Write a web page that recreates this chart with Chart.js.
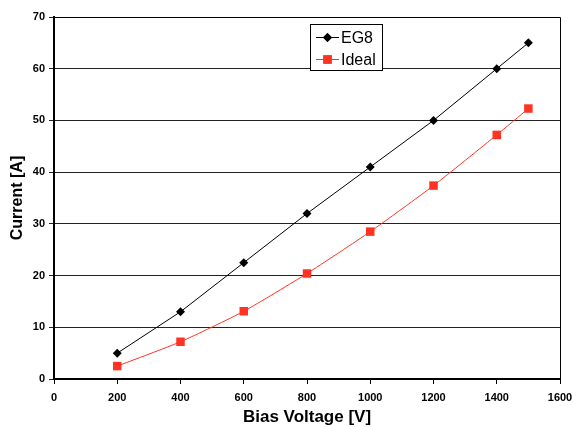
<!DOCTYPE html>
<html>
<head>
<meta charset="utf-8">
<script src="https://cdn.jsdelivr.net/npm/chart.js@4.4.1/dist/chart.umd.min.js"></script>
<style>
  html, body { margin: 0; padding: 0; background: #fff; }
  #wrap { width: 573px; height: 427px; }
</style>
</head>
<body>
<div id="wrap"><canvas id="grafico" width="573" height="427"></canvas></div>
<script>
const voltages = [200, 400, 600, 800, 1000, 1200, 1400, 1500];
const eg8 = [5, 13, 22.5, 32, 41, 50, 60, 65];
const ideal = [2.5, 7.2, 13.1, 20.4, 28.5, 37.4, 47.2, 52.3];
const seriesNames = ['EG8', 'Ideal'];

const red = '#ff3322';

// legend box inside the plot, plus top/right border of plot area
const boxPlugin = {
    id: 'boxPlugin',
    afterDraw(chart) {
        const ctx = chart.ctx;
        const a = chart.chartArea;
        ctx.save();
        ctx.strokeStyle = '#000';
        ctx.lineWidth = 1;
        ctx.beginPath();
        ctx.moveTo(a.left, a.top + 0.5);
        ctx.lineTo(a.right + 0.5, a.top + 0.5);
        ctx.lineTo(a.right + 0.5, a.bottom);
        ctx.stroke();

        // legend
        const lx = 310.5, ly = 24.5, lw = 72, lh = 46;
        ctx.fillStyle = '#fff';
        ctx.fillRect(lx, ly, lw, lh);
        ctx.strokeRect(lx, ly, lw, lh);
        const rows = [
            { name: seriesNames[0], color: '#000', style: 'rectRot', r: 4.5, y: 37.5 },
            { name: seriesNames[1], color: red, style: 'rect', r: 6, y: 59.5 }
        ];
        rows.forEach(row => {
            ctx.strokeStyle = row.color;
            ctx.lineWidth = 1;
            ctx.beginPath();
            ctx.moveTo(316, row.y);
            ctx.lineTo(339, row.y);
            ctx.stroke();
            ctx.fillStyle = row.color;
            Chart.helpers.drawPoint(ctx, { pointStyle: row.style, radius: row.r, borderWidth: 0 }, 327.5, row.y);
            ctx.fill();
            ctx.fillStyle = '#000';
            ctx.font = '16px "Liberation Sans", Arial, sans-serif';
            ctx.textBaseline = 'middle';
            ctx.textAlign = 'left';
            ctx.fillText(row.name, 341, row.y + 1);
        });
        ctx.restore();
    }
};

const tickFont = { family: '"Liberation Sans", Arial, sans-serif', size: 11, weight: 'bold' };

new Chart(document.getElementById('grafico').getContext('2d'), {
    type: 'line',
    data: {
        datasets: [{
            label: seriesNames[0],
            data: voltages.map((v, i) => ({ x: v, y: eg8[i] })),
            borderColor: '#000',
            backgroundColor: '#000',
            borderWidth: 1,
            pointStyle: 'rectRot',
            pointRadius: 4.5,
            pointBorderWidth: 0,
            tension: 0
        }, {
            label: seriesNames[1],
            data: voltages.map((v, i) => ({ x: v, y: ideal[i] })),
            borderColor: red,
            backgroundColor: red,
            borderWidth: 1,
            pointStyle: 'rect',
            pointRadius: 6,
            pointBorderWidth: 0,
            tension: 0.2
        }]
    },
    options: {
        responsive: false,
        animation: false,
        layout: { padding: { top: 17, right: 13, left: 0, bottom: 0 } },
        plugins: { legend: { display: false }, tooltip: { enabled: false } },
        scales: {
            x: {
                type: 'linear',
                min: 0, max: 1600,
                ticks: { stepSize: 200, color: '#000', font: tickFont, padding: 7, maxRotation: 0,
                         callback: v => String(v) },
                grid: { drawOnChartArea: false, drawTicks: true, tickLength: 5, color: '#000' },
                border: { color: '#000', width: 2 },
                title: { display: true, text: 'Bias Voltage [V]', color: '#000',
                         font: { family: '"Liberation Sans", Arial, sans-serif', size: 17, weight: 'bold' },
                         padding: { top: 0, bottom: -1 } },
                afterFit(s) { s.height = 48; s.paddingLeft = 0; s.paddingRight = 0; }
            },
            y: {
                min: 0, max: 70,
                ticks: { stepSize: 10, color: '#000', font: tickFont, padding: 4 },
                grid: { color: '#222', lineWidth: 1, drawTicks: true, tickLength: 5 },
                border: { color: '#000', width: 2 },
                title: { display: true, text: 'Current [A]', color: '#000',
                         font: { family: '"Liberation Sans", Arial, sans-serif', size: 16, weight: 'bold' },
                         padding: { top: 8, bottom: 0 } },
                afterFit(s) { s.width = 54; }
            }
        }
    },
    plugins: [boxPlugin]
});
</script>
</body>
</html>
